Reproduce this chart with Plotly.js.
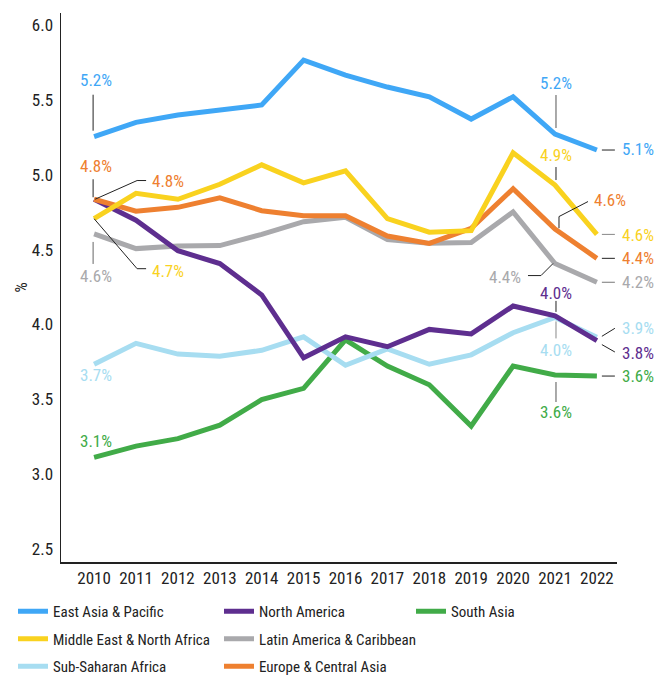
<!DOCTYPE html>
<html>
<head>
<meta charset="utf-8">
<script src="https://cdn.plot.ly/plotly-3.0.1.min.js"></script>
<style>html,body{margin:0;padding:0;background:#fff;}#chart{width:657px;height:675px;}</style>
</head>
<body>
<div id="chart"></div>
<script>
// ---- data ----
const years = [2010, 2011, 2012, 2013, 2014, 2015, 2016, 2017, 2018, 2019, 2020, 2021, 2022];
const seriesNames = ["East Asia & Pacific", "North America", "South Asia",
  "Middle East & North Africa", "Latin America & Caribbean", "Sub-Saharan Africa", "Europe & Central Asia"];
const eastAsiaPacific = [5.228, 5.324, 5.373, 5.406, 5.44, 5.74, 5.64, 5.56, 5.495, 5.346, 5.495, 5.246, 5.139];
const northAmerica = [4.81, 4.67, 4.466, 4.38, 4.17, 3.75, 3.89, 3.824, 3.94, 3.91, 4.096, 4.03, 3.865];
const southAsia = [3.085, 3.16, 3.21, 3.30, 3.47, 3.546, 3.87, 3.695, 3.57, 3.294, 3.695, 3.635, 3.628];
const middleEastNorthAfrica = [4.68, 4.85, 4.81, 4.91, 5.04, 4.92, 5.00, 4.68, 4.59, 4.60, 5.12, 4.905, 4.575];
const latinAmericaCaribbean = [4.578, 4.48, 4.497, 4.50, 4.575, 4.66, 4.69, 4.54, 4.515, 4.52, 4.725, 4.38, 4.255];
const subSaharanAfrica = [3.707, 3.847, 3.775, 3.76, 3.80, 3.89, 3.70, 3.81, 3.707, 3.77, 3.918, 4.02, 3.887];
const europeCentralAsia = [4.81, 4.73, 4.756, 4.82, 4.733, 4.70, 4.70, 4.564, 4.515, 4.616, 4.88, 4.61, 4.415];
const yTickVals = [2.5, 3.0, 3.5, 4.0, 4.5, 5.0, 5.5, 6.0];

// value labels: series index, year, text
const labelSeries = [0, 6, 6, 3, 4, 5, 2,   0, 3, 6, 4, 1, 5, 2,   0, 3, 6, 4, 5, 1, 2];
const labelYears  = [2010, 2010, 2010, 2010, 2010, 2010, 2010,
                     2021, 2021, 2021, 2021, 2021, 2021, 2021,
                     2022, 2022, 2022, 2022, 2022, 2022, 2022];
const labelTexts  = ["5.2%", "4.8%", "4.8%", "4.7%", "4.6%", "3.7%", "3.1%",
                     "5.2%", "4.9%", "4.6%", "4.4%", "4.0%", "4.0%", "3.6%",
                     "5.1%", "4.6%", "4.4%", "4.2%", "3.9%", "3.8%", "3.6%"];

// ---- style ----
const seriesData = [eastAsiaPacific, northAmerica, southAsia, middleEastNorthAfrica,
  latinAmericaCaribbean, subSaharanAfrica, europeCentralAsia];
const colors = ["#3FA7F6", "#5E2E8F", "#41AB48", "#F9D21F", "#A9A9AC", "#A7DDF1", "#EE8030"];
const legendOf = ["legend", "legend2", "legend3", "legend", "legend2", "legend", "legend2"];
const drawOrder = [2, 5, 4, 1, 6, 3, 0];
const FONT = "'Roboto Condensed', 'Liberation Sans Narrow', 'Arial Narrow', 'DejaVu Sans Condensed', Roboto, sans-serif";

// label offsets (px, y up) and leader paths (px relative to data point, y up)
const labelStyle = [
  {dx: 2, dy: 57, path: "M -1,6 L -1,42"},
  {dx: 2, dy: 33, path: "M -1,2 L -1,20"},
  {dx: 74, dy: 18, path: "M 1,0 L 43,18.7 L 52,18.7"},
  {dx: 74, dy: -52, path: "M 0,0 L 43,-50 L 52,-50"},
  {dx: 2, dy: -42, path: "M -1,-8 L -1,-30", lc: "#666"},
  {dx: 2, dy: -11},
  {dx: 2, dy: 16},
  {dx: 1, dy: 51, path: "M 1,6 L 1,39", lc: "#555"},
  {dx: 1, dy: 30, path: "M 1,5 L 1,18"},
  {dx: 55, dy: 29, path: "M 4,1 L 4,12.6 L 33,27.6"},
  {dx: -50, dy: -13, path: "M -2,0 L -14,-12 L -27,-12"},
  {dx: 1, dy: 23, path: "M 1,4 L 1,15"},
  {dx: 1, dy: -33, path: "M 1,-4 L 1,-21", lc: "#888"},
  {dx: 1, dy: -37, path: "M 1,-7 L 1,-27", lc: "#555"},
  {dx: 41, dy: 1, path: "M 5,0 L 18,0"},
  {dx: 41, dy: -1, path: "M 5,0 L 18,0", lc: "#888"},
  {dx: 41, dy: 0, path: "M 5,0 L 18,0"},
  {dx: 41, dy: 0, path: "M 5,0 L 18,0", lc: "#777"},
  {dx: 41, dy: 9, path: "M 5,1 L 18,9"},
  {dx: 41, dy: -12, path: "M 5,-4 L 18,-11.4"},
  {dx: 41, dy: 0, path: "M 5,0 L 18,0"}
];

const traces = drawOrder.map(i => ({
  type: "scatter", mode: "lines",
  x: years, y: seriesData[i], name: seriesNames[i],
  line: {color: colors[i], width: 5},
  legend: legendOf[i], legendrank: i + 1, legendgroup: "g" + i,
  hoverinfo: "skip"
}));

const annotations = [];
const shapes = [];
labelTexts.forEach((t, k) => {
  const s = labelSeries[k];
  const yi = years.indexOf(labelYears[k]);
  const v = seriesData[s][yi];
  const st = labelStyle[k];
  annotations.push({
    xref: "x", yref: "y", x: labelYears[k], y: v, text: t, showarrow: false,
    xshift: st.dx, yshift: st.dy, xanchor: "center", yanchor: "middle",
    font: {family: FONT, size: 17, color: colors[s]}
  });
  if (st.path) {
    shapes.push({
      type: "path", xref: "x", yref: "y", xsizemode: "pixel", ysizemode: "pixel",
      xanchor: labelYears[k], yanchor: v, path: st.path,
      line: {color: st.lc || "#222", width: 1}
    });
  }
});

const legendBase = {
  xref: "paper", yref: "paper", xanchor: "left", yanchor: "top",
  orientation: "v", bgcolor: "rgba(0,0,0,0)", borderwidth: 0, maxheight: 300,
  tracegroupgap: 5, font: {family: FONT, size: 15, color: "#222"}, traceorder: "grouped"
};
const legY = 1 - (595 - 13) / 549;

const layout = {
  width: 657, height: 675,
  margin: {l: 61, r: 40, t: 13, b: 113, autoexpand: false},
  paper_bgcolor: "#fff", plot_bgcolor: "#fff",
  font: {family: FONT, size: 16, color: "#222"},
  showlegend: true,
  xaxis: {
    range: [2009.21, 2022.48], tickvals: years, ticktext: years.map(String),
    showgrid: false, zeroline: false, showline: true, linecolor: "#222", linewidth: 1.5,
    ticks: "", tickfont: {family: FONT, size: 17, color: "#222"}, fixedrange: true
  },
  yaxis: {
    range: [2.385, 6.055], tickvals: yTickVals, tickformat: ".1f",
    showgrid: false, zeroline: false, showline: true, linecolor: "#222", linewidth: 1.5,
    ticks: "", tickfont: {family: FONT, size: 17, color: "#222"},
    ticklabelshift: 4, ticklabelstandoff: 3,
    title: {text: "%", standoff: 0, font: {family: FONT, size: 16, color: "#222"}}, fixedrange: true
  },
  legend: Object.assign({}, legendBase, {x: (13 - 61) / 556, y: legY}),
  legend2: Object.assign({}, legendBase, {x: (219 - 61) / 556, y: legY}),
  legend3: Object.assign({}, legendBase, {x: (411 - 61) / 556, y: legY}),
  annotations: annotations,
  shapes: shapes
};

Plotly.newPlot("chart", traces, layout, {displayModeBar: false, staticPlot: true});
</script>
</body>
</html>
